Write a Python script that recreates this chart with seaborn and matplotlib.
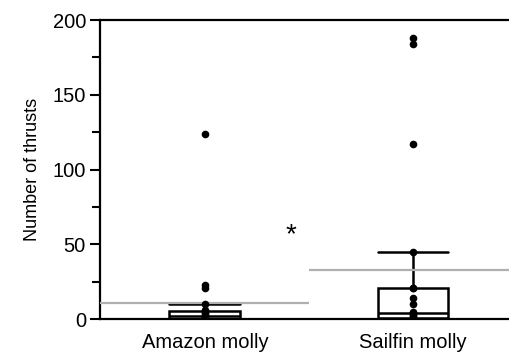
import numpy as np
import pandas as pd
import matplotlib
matplotlib.use("Agg")
import matplotlib.pyplot as plt
import seaborn as sns
from matplotlib.ticker import MultipleLocator

sns.set_style("white")
plt.rcParams['font.family'] = ['Liberation Sans', 'DejaVu Sans']
plt.rcParams['text.color'] = 'black'
plt.rcParams['axes.labelcolor'] = 'black'
plt.rcParams['xtick.color'] = 'black'
plt.rcParams['ytick.color'] = 'black'

## Data
species = ['Amazon molly', 'Sailfin molly']
amazon = [0, 0, 0, 0, 0, 0, 1, 1, 1, 2, 2, 3, 4, 5, 6, 10, 21, 23, 124]
sailfin = [0, 0, 0, 0, 1, 1, 2, 3, 4, 4, 5, 10, 14, 21, 21, 45, 117, 184, 188]
yticks = [0, 50, 100, 150, 200]

df = pd.DataFrame({
    'Species': [species[0]] * len(amazon) + [species[1]] * len(sailfin),
    'Thrusts': amazon + sailfin,
})

fig = plt.figure(figsize=(5.09, 3.53), dpi=100)
ax = fig.add_axes([0.196, 0.096, 0.804, 0.847])

sns.boxplot(data=df, x='Species', y='Thrusts', order=species, width=0.34,
            showfliers=False, color='white', linecolor='black', linewidth=1.8,
            capwidths=0.34, ax=ax)
sns.stripplot(data=df, x='Species', y='Thrusts', order=species, jitter=False,
              color='black', size=5.5, ax=ax, zorder=5)

# group means as grey lines
xmin, xmax = -0.505, 1.461
means = df.groupby('Species')['Thrusts'].mean()
ax.hlines(means[species[0]], xmin, 0.5, color='#b0b0b0', lw=1.6, zorder=4)
ax.hlines(means[species[1]], 0.5, xmax, color='#b0b0b0', lw=1.6, zorder=4)

ax.text(0.415, 56, '*', fontsize=20, ha='center', va='center')

ax.set_xlim(xmin, xmax)
ax.set_ylim(0, 200)
ax.set_yticks(yticks)
ax.yaxis.set_minor_locator(MultipleLocator(25))
ax.tick_params(axis='y', which='major', direction='out', length=7, width=1.5,
               labelsize=14.5, left=True, pad=3)
ax.tick_params(axis='y', which='minor', direction='out', length=6, width=1.5,
               left=True)
ax.tick_params(axis='x', length=0, labelsize=14.5, pad=10)
ax.set_xlabel('')
ax.set_ylabel('Number of thrusts', fontsize=13, labelpad=8)

for side in ['left', 'bottom', 'top']:
    ax.spines[side].set_linewidth(1.6)
    ax.spines[side].set_color('black')
ax.spines['right'].set_visible(False)

fig.savefig('out.png', dpi=100)
